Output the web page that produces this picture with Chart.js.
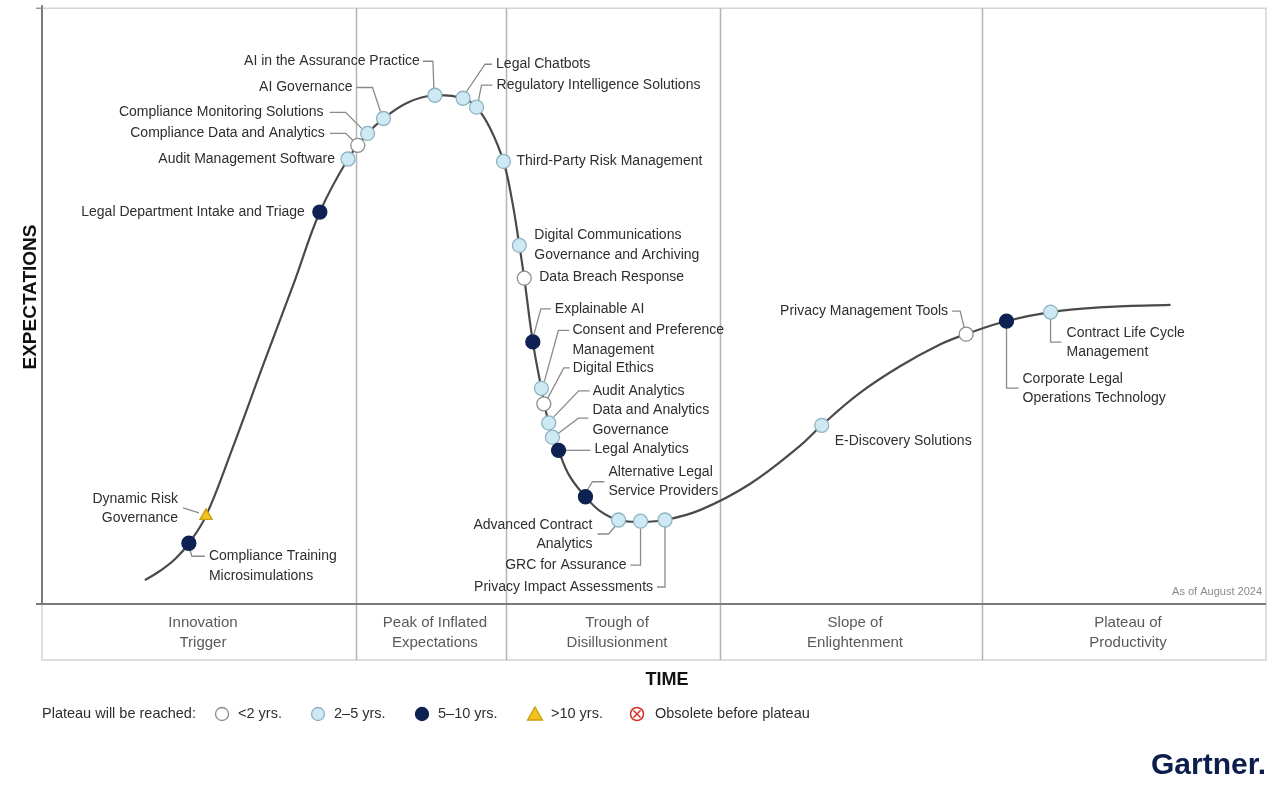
<!DOCTYPE html>
<html>
<head>
<meta charset="utf-8">
<script src="https://cdn.jsdelivr.net/npm/chart.js@4.4.1/dist/chart.umd.min.js"></script>
<style>
  html, body { margin: 0; padding: 0; background: #fff; }
  #wrap { width: 1280px; height: 792px; position: relative; }
</style>
</head>
<body>
<div id="wrap"><canvas id="hype"></canvas></div>
<script>
// hype curve (time 0-100, expectations 0-100)
const curveTime = [8.4, 9.6, 10.9, 12.0, 13.4, 15.5, 18.1, 20.6, 22.7, 25.0, 26.6, 27.9, 29.9, 32.1, 34.4, 35.5, 36.6, 37.7, 38.4, 39.0, 39.4, 40.1, 40.8, 41.4, 42.2, 43.1, 44.4, 45.6, 47.1, 48.9, 50.9, 53.8, 57.8, 61.9, 63.7, 66.8, 70.1, 73.4, 75.5, 78.8, 82.4, 86.4, 92.2];
const curveExp = [4.0, 5.5, 7.6, 10.2, 14.8, 25.8, 40.3, 54.0, 65.8, 74.7, 79.0, 81.5, 84.2, 85.4, 84.9, 83.4, 79.9, 74.3, 67.8, 60.2, 54.7, 44.0, 36.2, 30.4, 25.8, 21.5, 18.0, 15.6, 14.1, 13.8, 14.1, 15.8, 20.1, 26.5, 30.0, 35.4, 39.9, 43.6, 45.3, 47.5, 49.0, 49.8, 50.2];

// technologies on the curve
const techNames = [
  "Compliance Training\nMicrosimulations",
  "Dynamic Risk\nGovernance",
  "Legal Department Intake and Triage",
  "Audit Management Software",
  "Compliance Data and Analytics",
  "Compliance Monitoring Solutions",
  "AI Governance",
  "AI in the Assurance Practice",
  "Legal Chatbots",
  "Regulatory Intelligence Solutions",
  "Third-Party Risk Management",
  "Digital Communications\nGovernance and Archiving",
  "Data Breach Response",
  "Explainable AI",
  "Consent and Preference\nManagement",
  "Digital Ethics",
  "Audit Analytics",
  "Data and Analytics\nGovernance",
  "Legal Analytics",
  "Alternative Legal\nService Providers",
  "Advanced Contract\nAnalytics",
  "GRC for Assurance",
  "Privacy Impact Assessments",
  "E-Discovery Solutions",
  "Privacy Management Tools",
  "Corporate Legal\nOperations Technology",
  "Contract Life Cycle\nManagement"
];
const techTime = [12.0, 13.4, 22.7, 25.0, 25.8, 26.6, 27.9, 32.1, 34.4, 35.5, 37.7, 39.0, 39.4, 40.1, 40.8, 41.0, 41.4, 41.7, 42.2, 44.4, 47.1, 48.9, 50.9, 63.7, 75.5, 78.8, 82.4];
const techExp = [10.2, 14.8, 65.8, 74.7, 77.0, 79.0, 81.5, 85.4, 84.9, 83.4, 74.3, 60.2, 54.7, 44.0, 36.2, 33.6, 30.4, 28.0, 25.8, 18.0, 14.1, 13.9, 14.1, 30.0, 45.3, 47.5, 49.0];
// years to plateau: 0 = <2, 1 = 2-5, 2 = 5-10, 3 = >10
const techPlateau = [2, 3, 2, 1, 0, 1, 1, 1, 1, 1, 1, 1, 0, 2, 1, 0, 1, 1, 2, 2, 1, 1, 1, 1, 0, 2, 1];

const phaseNames = ["Innovation\nTrigger", "Peak of Inflated\nExpectations", "Trough of\nDisillusionment", "Slope of\nEnlightenment", "Plateau of\nProductivity"];
const phaseBounds = [0, 25.65, 37.9, 55.4, 76.8, 100];

const legendLabels = ["<2 yrs.", "2\u20135 yrs.", "5\u201310 yrs.", ">10 yrs.", "Obsolete before plateau"];

// styling
const fillCol = ["#ffffff", "#cde9f3", "#0d2152", "#f2c31c"];
const edgeCol = ["#8c8c8c", "#8fb2c2", "#0d2152", "#c99f10"];
const FONT = "Liberation Sans, Arial, sans-serif";

// label placement: offset of text anchor from the marker, alignment, leader path
const labelPos = [
  { dx: 20, dy: 13, al: "left", lead: [[1, 6], [3, 13], [16, 13]] },
  { dx: -28, dy: -17, al: "right", lead: [[-23, -8], [-7, -3]] },
  { dx: -15, dy: 0, al: "right" },
  { dx: -13, dy: 0, al: "right" },
  { dx: -33, dy: -12, al: "right", lead: [[-28, -12], [-12, -12], [-5, -5]] },
  { dx: -44, dy: -21, al: "right", lead: [[-38, -21], [-22, -21], [-6, -5]] },
  { dx: -31, dy: -31, al: "right", lead: [[-27, -31], [-11, -31], [-3, -7]] },
  { dx: -15, dy: -34, al: "right", lead: [[-12, -34], [-2, -34], [-1, -7]] },
  { dx: 33, dy: -34, al: "left", lead: [[29, -34], [22, -34], [3, -6]] },
  { dx: 20, dy: -22, al: "left", lead: [[16, -22], [5, -22], [2, -7]] },
  { dx: 13, dy: 0, al: "left" },
  { dx: 15, dy: -10, al: "left" },
  { dx: 15, dy: -1, al: "left" },
  { dx: 22, dy: -33, al: "left", lead: [[18, -33], [8, -33], [1, -7]] },
  { dx: 31, dy: -58, al: "left", lead: [[28, -58], [17, -58], [3, -7]] },
  { dx: 29, dy: -36, al: "left", lead: [[26, -36], [20, -36], [4, -6]] },
  { dx: 44, dy: -32, al: "left", lead: [[41, -32], [30, -32], [5, -6]] },
  { dx: 40, dy: -27, al: "left", lead: [[36, -19], [26, -19], [6, -4]] },
  { dx: 36, dy: -1, al: "left", lead: [[7, 0], [32, 0]] },
  { dx: 23, dy: -25, al: "left", lead: [[19, -15], [7, -15], [2, -7]] },
  { dx: -26, dy: 5, al: "right", lead: [[-21, 14], [-10, 14], [-3, 6]] },
  { dx: -14, dy: 44, al: "right", lead: [[-10, 44], [0, 44], [0, 7]] },
  { dx: -12, dy: 67, al: "right", lead: [[-8, 67], [0, 67], [0, 7]] },
  { dx: 13, dy: 16, al: "left" },
  { dx: -18, dy: -23, al: "right", lead: [[-14, -23], [-6, -23], [-2, -7]] },
  { dx: 16, dy: 58, al: "left", lead: [[0, 7], [0, 67], [12, 67]] },
  { dx: 16, dy: 21, al: "left", lead: [[0, 7], [0, 30], [11, 30]] }
];

function drawObsolete(ctx, x, y) {
  ctx.save();
  ctx.beginPath();
  ctx.arc(x, y, 6.5, 0, Math.PI * 2);
  ctx.fillStyle = "#fff";
  ctx.fill();
  ctx.lineWidth = 1.6;
  ctx.strokeStyle = "#d9342b";
  ctx.stroke();
  ctx.beginPath();
  ctx.moveTo(x - 3.5, y - 3.5); ctx.lineTo(x + 3.5, y + 3.5);
  ctx.moveTo(x + 3.5, y - 3.5); ctx.lineTo(x - 3.5, y + 3.5);
  ctx.stroke();
  ctx.restore();
}

const framePlugin = {
  id: "frame",
  beforeDraw(chart) {
    const ctx = chart.ctx;
    ctx.save();
    ctx.fillStyle = "#fff";
    ctx.fillRect(0, 0, chart.width, chart.height);
    ctx.restore();
  },
  beforeDatasetsDraw(chart) {
    const ctx = chart.ctx;
    const a = chart.chartArea;
    const xs = chart.scales.x;
    const bandBottom = a.bottom + 56;
    ctx.save();
    // light frame
    ctx.strokeStyle = "#d4d4d4";
    ctx.lineWidth = 1.5;
    ctx.beginPath();
    ctx.moveTo(a.left, a.top); ctx.lineTo(a.right, a.top); ctx.lineTo(a.right, bandBottom);
    ctx.lineTo(a.left, bandBottom); ctx.lineTo(a.left, a.bottom);
    ctx.stroke();
    // phase dividers
    ctx.strokeStyle = "#b4b4b4";
    ctx.lineWidth = 1.5;
    for (let i = 1; i < phaseBounds.length - 1; i++) {
      const px = Math.round(xs.getPixelForValue(phaseBounds[i])) + 0.5;
      ctx.beginPath();
      ctx.moveTo(px, a.top); ctx.lineTo(px, bandBottom);
      ctx.stroke();
    }
    // axes
    ctx.strokeStyle = "#7a7a7a";
    ctx.lineWidth = 2;
    ctx.beginPath();
    ctx.moveTo(a.left, a.top - 3); ctx.lineTo(a.left, a.bottom);
    ctx.moveTo(a.left - 6, a.bottom); ctx.lineTo(a.right, a.bottom);
    ctx.stroke();
    ctx.strokeStyle = "#9a9a9a";
    ctx.lineWidth = 1.5;
    ctx.beginPath();
    ctx.moveTo(a.left - 6, a.top); ctx.lineTo(a.left, a.top);
    ctx.stroke();

    // leader lines
    const meta = chart.getDatasetMeta(0);
    ctx.strokeStyle = "#8a8a8a";
    ctx.lineWidth = 1.3;
    meta.data.forEach((pt, i) => {
      const lp = labelPos[i];
      if (!lp.lead) return;
      ctx.beginPath();
      lp.lead.forEach((o, k) => {
        const x = pt.x + o[0], y = pt.y + o[1];
        if (k === 0) ctx.moveTo(x, y); else ctx.lineTo(x, y);
      });
      ctx.stroke();
    });
    ctx.restore();
  },
  afterDatasetsDraw(chart) {
    const ctx = chart.ctx;
    const a = chart.chartArea;
    const xs = chart.scales.x;
    ctx.save();
    ctx.textBaseline = "middle";

    // technology labels
    const meta = chart.getDatasetMeta(0);
    ctx.fillStyle = "#2e2e2e";
    ctx.font = "14px " + FONT;
    meta.data.forEach((pt, i) => {
      const lp = labelPos[i];
      ctx.textAlign = lp.al;
      techNames[i].split("\n").forEach((line, k) => {
        ctx.fillText(line, pt.x + lp.dx, pt.y + lp.dy + k * 19.5);
      });
    });

    // phase names
    ctx.fillStyle = "#5a5a5a";
    ctx.font = "15px " + FONT;
    ctx.textAlign = "center";
    phaseNames.forEach((name, i) => {
      const cx = (xs.getPixelForValue(phaseBounds[i]) + xs.getPixelForValue(phaseBounds[i + 1])) / 2 + 4;
      name.split("\n").forEach((line, k) => {
        ctx.fillText(line, cx, a.bottom + 19 + k * 19.5);
      });
    });

    // as of
    ctx.fillStyle = "#8a8a8a";
    ctx.font = "11px " + FONT;
    ctx.textAlign = "right";
    ctx.fillText("As of August 2024", a.right - 4, a.bottom - 12);

    // axis titles
    ctx.fillStyle = "#111";
    ctx.font = "bold 18px " + FONT;
    ctx.textAlign = "center";
    ctx.fillText("TIME", 667, a.bottom + 76);
    ctx.save();
    ctx.translate(31, 297);
    ctx.rotate(-Math.PI / 2);
    ctx.font = "bold 19px " + FONT;
    ctx.fillText("EXPECTATIONS", 0, 0);
    ctx.restore();

    // legend
    const ly = 714;
    ctx.font = "14.5px " + FONT;
    ctx.fillStyle = "#2e2e2e";
    ctx.textAlign = "left";
    ctx.fillText("Plateau will be reached:", 42, ly);
    const legX = [222, 318, 422, 535];
    legX.forEach((x, i) => {
      ctx.beginPath();
      if (i === 3) {
        ctx.moveTo(x, ly - 7); ctx.lineTo(x + 7.5, ly + 6); ctx.lineTo(x - 7.5, ly + 6); ctx.closePath();
      } else {
        ctx.arc(x, ly, 6.5, 0, Math.PI * 2);
      }
      ctx.fillStyle = fillCol[i];
      ctx.fill();
      ctx.strokeStyle = edgeCol[i];
      ctx.lineWidth = 1.3;
      ctx.stroke();
      ctx.fillStyle = "#2e2e2e";
      ctx.fillText(legendLabels[i], x + 16, ly);
    });
    drawObsolete(ctx, 637, ly);
    ctx.fillStyle = "#2e2e2e";
    ctx.fillText(legendLabels[4], 655, ly);

    // logo
    ctx.font = "bold 30px " + FONT;
    ctx.textAlign = "right";
    ctx.fillStyle = "#0c1d4e";
    ctx.fillText("Gartner.", 1266, 766);
    ctx.restore();
  }
};

const curvePoints = curveTime.map((t, i) => ({ x: t, y: curveExp[i] }));
const techPoints = techTime.map((t, i) => ({ x: t, y: techExp[i] }));

new Chart(document.getElementById("hype"), {
  type: "scatter",
  data: {
    datasets: [
      {
        label: "Technologies",
        data: techPoints,
        order: 0,
        pointRadius: 7,
        pointBorderWidth: 1.3,
        pointStyle: techPlateau.map((p) => (p === 3 ? "triangle" : "circle")),
        pointBackgroundColor: techPlateau.map((p) => fillCol[p]),
        pointBorderColor: techPlateau.map((p) => edgeCol[p])
      },
      {
        label: "Hype Cycle",
        data: curvePoints,
        order: 1,
        showLine: true,
        pointRadius: 0,
        borderColor: "#4a4a4a",
        borderWidth: 2.2,
        tension: 0.4
      }
    ]
  },
  options: {
    responsive: true,
    maintainAspectRatio: false,
    animation: false,
    layout: { padding: { left: 42, right: 14, top: 8, bottom: 188 } },
    plugins: { legend: { display: false }, tooltip: { enabled: false } },
    scales: {
      x: { type: "linear", min: 0, max: 100, display: false },
      y: { type: "linear", min: 0, max: 100, display: false }
    }
  },
  plugins: [framePlugin]
});
</script>
</body>
</html>
